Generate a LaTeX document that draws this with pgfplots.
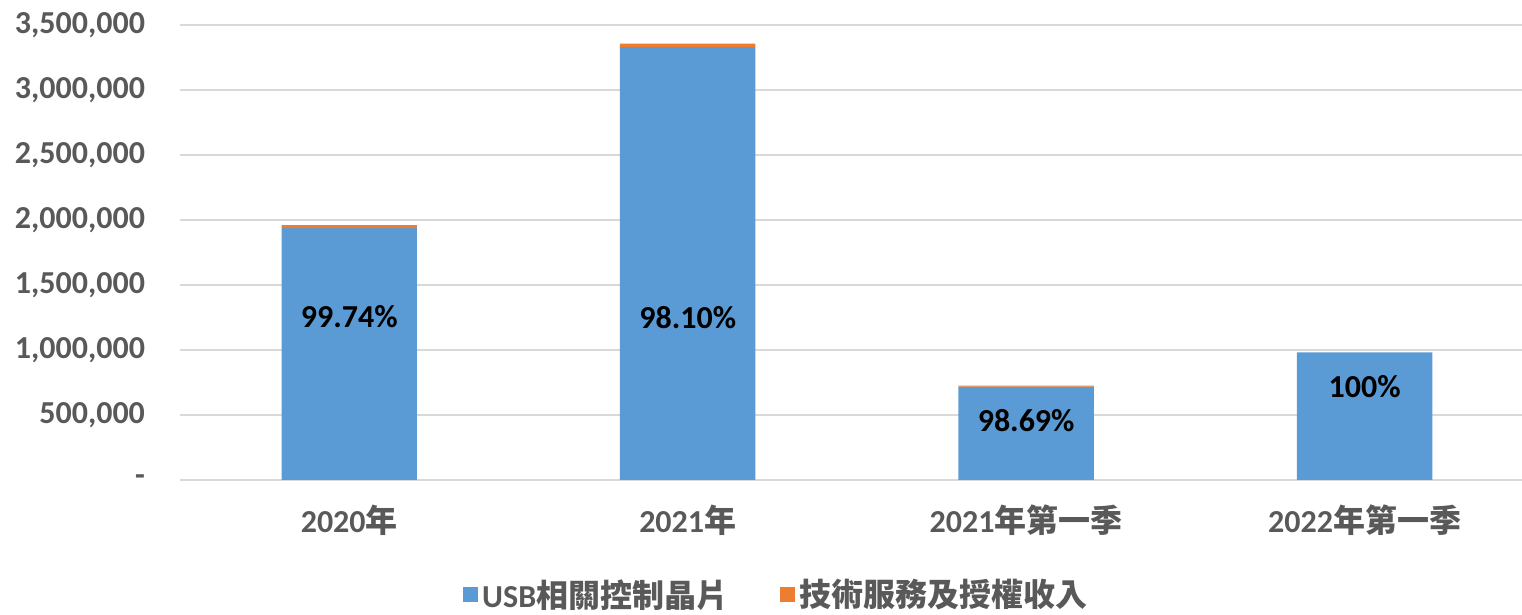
\documentclass[border=0pt]{standalone}
\usepackage{fontspec}
\setmainfont{Carlito}
\newfontfamily\cjk{Noto Sans CJK TC}
\usepackage{pgfplots}
\pgfplotsset{compat=1.18}
\definecolor{cblue}{HTML}{5B9BD5}
\definecolor{corange}{HTML}{ED7D31}
\definecolor{tgray}{HTML}{595959}
\definecolor{ggray}{HTML}{D9D9D9}
\begin{document}
\begin{tikzpicture}
\begin{axis}[
  at={(0,0)}, anchor=south west,
  scale only axis, width=671pt, height=227.5pt,
  ybar stacked, bar width=0.4, reverse stacked plots=false,
  xmin=-0.5, xmax=3.465, ymin=0, ymax=3500000,
  scaled y ticks=false,
  xtick={0,1,2,3},
  xticklabels={2020{\cjk 年}, 2021{\cjk 年}, 2021{\cjk 年第一季}, 2022{\cjk 年第一季}},
  ytick={0,500000,1000000,1500000,2000000,2500000,3000000,3500000},
  yticklabels={{-},{500,000},{1,000,000},{1,500,000},{2,000,000},{2,500,000},{3,000,000},{3,500,000}},
  ticklabel style={font=\fontsize{16}{19}\selectfont\bfseries, text=tgray},
  xticklabel style={yshift=-9pt},
  yticklabel style={xshift=-14pt},
  major tick length=0pt,
  axis line style={draw=none},
  ymajorgrids, grid style={ggray, line width=1pt},
  legend style={at={(0.445,-0.252)}, anchor=center, draw=none, fill=none,
    legend columns=2, font=\fontsize{16}{19}\selectfont\bfseries, text=tgray,
    /tikz/every even column/.append style={column sep=24pt}},
  legend image code/.code={\fill[#1] (0pt,-3.75pt) rectangle (7.5pt,3.75pt);},
]
\addplot[fill=cblue, draw=none] coordinates {(0,1938000) (1,3331000) (2,718000) (3,982000)};
\addlegendentry{USB{\cjk 相關控制晶片}}
\addplot[fill=corange, draw=none] coordinates {(0,23000) (1,25600) (2,8000) (3,0)};
\addlegendentry{{\cjk 技術服務及授權收入}}
\node[font=\fontsize{16}{19}\selectfont\bfseries, text=black] at (axis cs:0,1254000) {99.74\%};
\node[font=\fontsize{16}{19}\selectfont\bfseries, text=black] at (axis cs:1,1246000) {98.10\%};
\node[font=\fontsize{16}{19}\selectfont\bfseries, text=black] at (axis cs:2,454000) {98.69\%};
\node[font=\fontsize{16}{19}\selectfont\bfseries, text=black] at (axis cs:3,715000) {100\%};
\end{axis}
\pgfresetboundingbox
\path (-90pt,-67.5pt) rectangle (671pt,240pt);
\end{tikzpicture}
\end{document}
